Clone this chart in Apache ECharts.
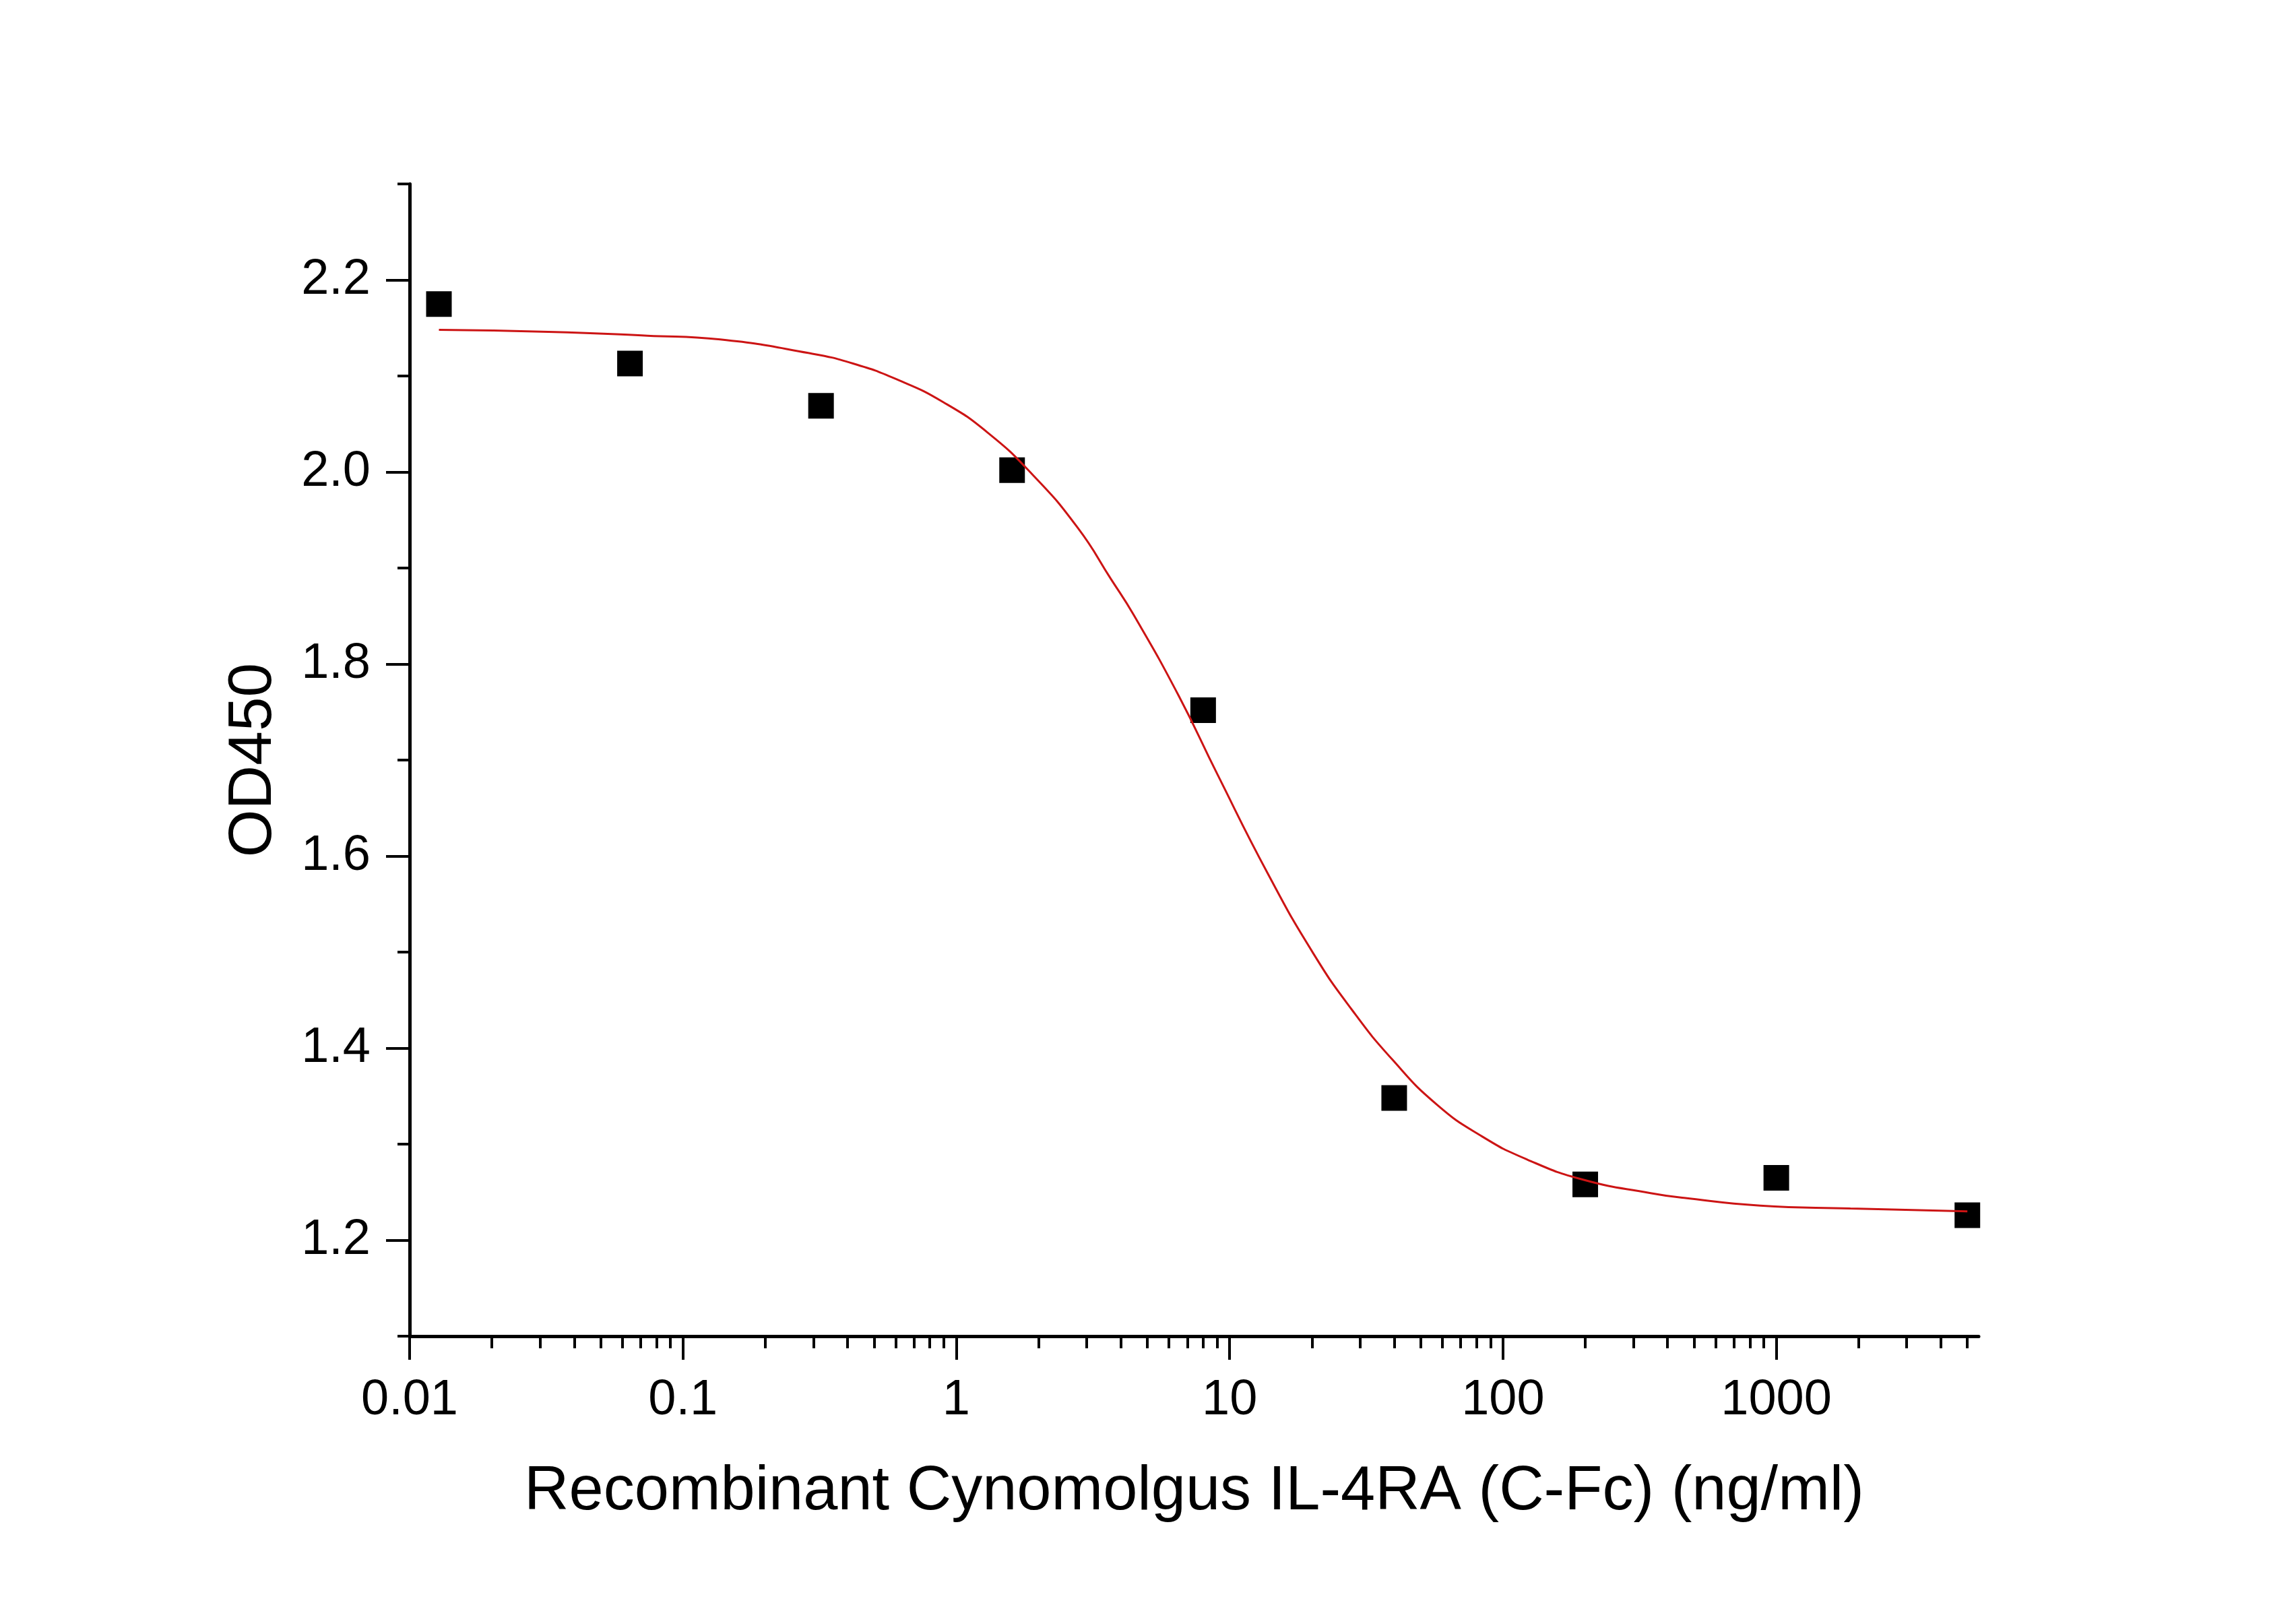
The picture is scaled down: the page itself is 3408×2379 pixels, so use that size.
<!DOCTYPE html>
<html>
<head>
<meta charset="utf-8">
<script src="https://cdn.jsdelivr.net/npm/echarts@6/dist/echarts.min.js"></script>
<style>
html,body{margin:0;padding:0;background:#fff;}
#chart{width:3408px;height:2379px;}
</style>
</head>
<body>
<div id="chart"></div>
<script>
// Measured points (concentration ng/ml, OD450)
const concentrations = [0.0128, 0.064, 0.32, 1.6, 8, 40, 200, 1000, 5000];
const od450 = [2.175, 2.113, 2.069, 2.002, 1.752, 1.348, 1.258, 1.265, 1.226];

// Fitted curve
const fitConc = [0.0128, 0.0322, 0.0741, 0.137, 0.287, 0.419, 0.611, 0.893, 1.303, 1.904, 2.78, 3.69, 4.46, 6.51, 8.99, 13.9, 20.3, 28.0, 39.4, 57.4, 83.9, 122.5, 196.5, 346.9, 460, 873, 1867, 5000];
const fitOd   = [2.148, 2.146, 2.142, 2.138, 2.124, 2.113, 2.096, 2.073, 2.041, 1.997, 1.942, 1.888, 1.851, 1.767, 1.686, 1.580, 1.498, 1.440, 1.388, 1.341, 1.308, 1.284, 1.263, 1.249, 1.244, 1.236, 1.233, 1.230];

// Axis ticks
const xTickValues = [0.01, 0.1, 1, 10, 100, 1000];
const xTickLabels = ['0.01', '0.1', '1', '10', '100', '1000'];
const xMinorTicks = [0.02,0.03,0.04,0.05,0.06,0.07,0.08,0.09,
                     0.2,0.3,0.4,0.5,0.6,0.7,0.8,0.9,
                     2,3,4,5,6,7,8,9,
                     20,30,40,50,60,70,80,90,
                     200,300,400,500,600,700,800,900,
                     2000,3000,4000,5000];
const yTickValues = [1.2, 1.4, 1.6, 1.8, 2.0, 2.2];
const yTickLabels = ['1.2', '1.4', '1.6', '1.8', '2.0', '2.2'];
const yMinorTicks = [1.1, 1.3, 1.5, 1.7, 1.9, 2.1, 2.3];

const xTitle = 'Recombinant Cynomolgus IL-4RA (C-Fc) (ng/ml)';
const yTitle = 'OD450';

const FONT = "'Liberation Sans', Arial, sans-serif";
const X_MIN = 0.01, X_MAX = 5500, Y_MIN = 1.1, Y_MAX = 2.3;

function lookup(values, labels) {
  return function (v) {
    for (let i = 0; i < values.length; i++) {
      if (Math.abs(values[i] - v) <= Math.abs(values[i]) * 1e-6) return labels[i];
    }
    return '';
  };
}

const chart = echarts.init(document.getElementById('chart'), null, {renderer: 'canvas'});
chart.setOption({
  animation: false,
  backgroundColor: '#ffffff',
  grid: {left: 608, right: 471, top: 273, bottom: 396, containLabel: false},
  xAxis: [
    {
      type: 'log', logBase: 10, min: X_MIN, max: X_MAX, position: 'bottom',
      name: xTitle, nameLocation: 'middle', nameGap: 186,
      nameTextStyle: {fontFamily: FONT, fontSize: 92, color: '#000'},
      axisLine: {show: true, onZero: false, lineStyle: {color: '#000', width: 5, cap: 'round'}},
      axisTick: {show: true, inside: false, length: 35, customValues: xTickValues, lineStyle: {color: '#000', width: 4}},
      axisLabel: {show: true, customValues: xTickValues, margin: 59, fontFamily: FONT, fontSize: 74, color: '#000',
                  formatter: lookup(xTickValues, xTickLabels)},
      splitLine: {show: false}, minorTick: {show: false}, minorSplitLine: {show: false}
    },
    {
      type: 'log', logBase: 10, min: X_MIN, max: X_MAX, position: 'bottom',
      axisLine: {show: false},
      axisTick: {show: true, inside: false, length: 18, customValues: xMinorTicks, lineStyle: {color: '#000', width: 4}},
      axisLabel: {show: false},
      splitLine: {show: false}
    }
  ],
  yAxis: [
    {
      type: 'value', min: Y_MIN, max: Y_MAX, position: 'left',
      name: yTitle, nameLocation: 'middle', nameGap: 186, nameRotate: 90,
      nameTextStyle: {fontFamily: FONT, fontSize: 91, color: '#000'},
      axisLine: {show: true, onZero: false, lineStyle: {color: '#000', width: 5, cap: 'round'}},
      axisTick: {show: true, inside: false, length: 35, customValues: yTickValues, lineStyle: {color: '#000', width: 4}},
      axisLabel: {show: true, customValues: yTickValues, margin: 58, fontFamily: FONT, fontSize: 74, color: '#000',
                  formatter: lookup(yTickValues, yTickLabels)},
      splitLine: {show: false}
    },
    {
      type: 'value', min: Y_MIN, max: Y_MAX, position: 'left',
      axisLine: {show: false},
      axisTick: {show: true, inside: false, length: 18, customValues: yMinorTicks, lineStyle: {color: '#000', width: 4}},
      axisLabel: {show: false},
      splitLine: {show: false}
    }
  ],
  series: [
    {
      type: 'scatter', xAxisIndex: 0, yAxisIndex: 0,
      symbol: 'rect', symbolSize: 38,
      itemStyle: {color: '#000', opacity: 1},
      data: concentrations.map((c, i) => [c, od450[i]]),
      z: 2
    },
    {
      type: 'line', xAxisIndex: 0, yAxisIndex: 0,
      showSymbol: false, symbol: 'none', smooth: true,
      lineStyle: {color: '#cc1414', width: 3},
      data: fitConc.map((c, i) => [c, fitOd[i]]),
      z: 3
    }
  ]
});
</script>
</body>
</html>
